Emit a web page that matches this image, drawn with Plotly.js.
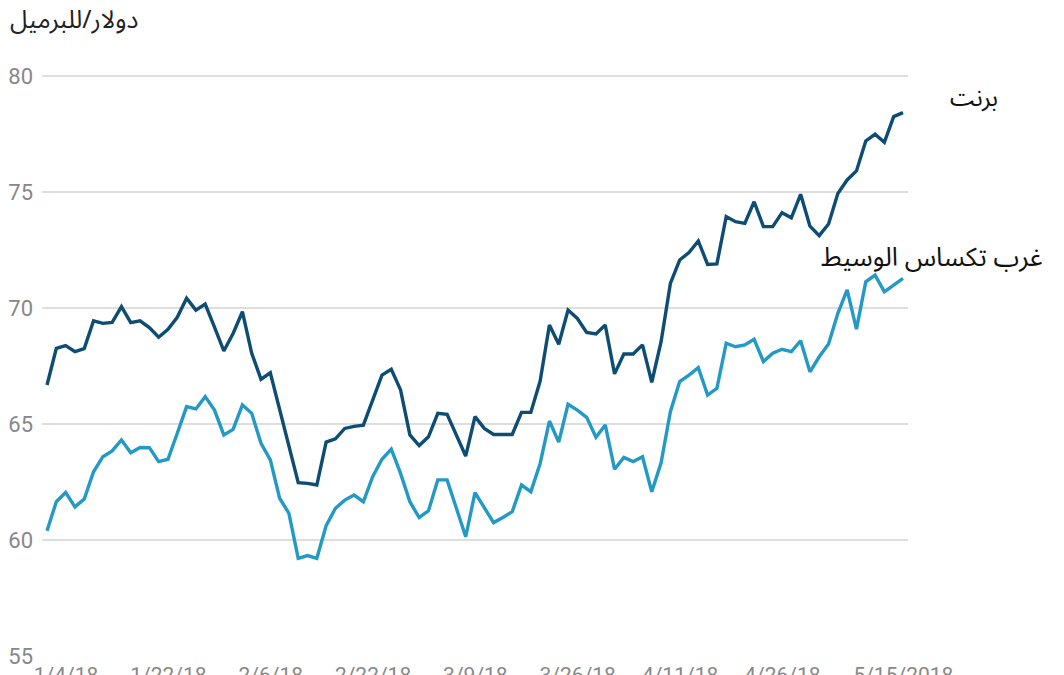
<!DOCTYPE html>
<html>
<head>
<meta charset="utf-8">
<script src="https://cdn.plot.ly/plotly-3.0.1.min.js"></script>
<style>
  html, body { margin: 0; padding: 0; background: #ffffff; }
  #chart { width: 1064px; height: 675px; }
</style>
</head>
<body>
<div id="chart"></div>
<script>
// Trading days, 4 Jan 2018 – 17 May 2018
const dates = [
  "1/4/18","1/5/18","1/8/18","1/9/18","1/10/18","1/11/18","1/12/18","1/16/18","1/17/18","1/18/18","1/19/18",
  "1/22/18","1/23/18","1/24/18","1/25/18","1/26/18","1/29/18","1/30/18","1/31/18",
  "2/1/18","2/2/18","2/5/18","2/6/18","2/7/18","2/8/18","2/9/18","2/12/18","2/13/18","2/14/18","2/15/18","2/16/18",
  "2/20/18","2/21/18","2/22/18","2/23/18","2/26/18","2/27/18","2/28/18",
  "3/1/18","3/2/18","3/5/18","3/6/18","3/7/18","3/8/18","3/9/18","3/12/18","3/13/18","3/14/18","3/15/18","3/16/18",
  "3/19/18","3/20/18","3/21/18","3/22/18","3/23/18","3/26/18","3/27/18","3/28/18","3/29/18",
  "4/2/18","4/3/18","4/4/18","4/5/18","4/6/18","4/9/18","4/10/18","4/11/18","4/12/18","4/13/18",
  "4/16/18","4/17/18","4/18/18","4/19/18","4/20/18","4/23/18","4/24/18","4/25/18","4/26/18","4/27/18","4/30/18",
  "5/1/18","5/2/18","5/3/18","5/4/18","5/7/18","5/8/18","5/9/18","5/10/18","5/11/18","5/14/18","5/15/18","5/16/18","5/17/18"
];

// Brent (USD / barrel)
const brent = [
  66.68,68.26,68.38,68.12,68.25,69.45,69.34,69.38,70.06,69.37,69.45,
  69.16,68.74,69.08,69.60,70.42,69.91,70.17,69.18,
  68.15,68.90,69.84,68.05,66.93,67.21,65.60,64.05,62.47,62.44,62.37,
  64.22,64.36,64.81,64.90,64.95,66.03,67.11,67.36,
  66.47,64.53,64.07,64.45,65.46,65.42,64.53,63.62,65.32,64.81,64.55,
  64.55,64.55,65.50,65.50,66.85,69.27,68.44,69.91,69.55,
  68.95,68.88,69.27,67.16,68.02,68.02,68.41,66.80,68.55,71.06,
  72.07,72.39,72.89,71.88,71.90,73.94,73.72,73.65,74.58,73.51,73.51,
  74.11,73.89,74.90,73.53,73.12,73.62,74.94,75.52,75.91,77.20,77.49,77.14,78.25,78.42
];

// West Texas Intermediate (USD / barrel)
const wti = [
  60.40,61.65,62.05,61.43,61.77,62.94,63.59,63.84,64.31,63.76,63.99,
  63.98,63.38,63.48,64.60,65.75,65.65,66.18,65.60,
  64.53,64.77,65.82,65.46,64.17,63.45,61.80,61.15,59.21,59.33,59.21,
  60.62,61.37,61.72,61.94,61.65,62.73,63.48,63.92,
  62.87,61.65,60.97,61.26,62.59,62.59,61.37,60.14,62.04,61.37,60.75,
  60.97,61.22,62.37,62.08,63.30,65.13,64.22,65.85,65.60,
  65.29,64.43,64.96,63.05,63.56,63.38,63.59,62.08,63.33,65.53,
  66.83,67.11,67.43,66.25,66.54,68.48,68.33,68.41,68.65,67.69,68.05,
  68.22,68.12,68.59,67.25,67.90,68.45,69.77,70.78,69.09,71.13,71.42,70.70,70.99,71.28
];

const tickDates = ["1/4/18","1/22/18","2/6/18","2/22/18","3/9/18","3/26/18","4/11/18","4/26/18","5/15/18"];
const tickLabels = ["1/4/18","1/22/18","2/6/18","2/22/18","3/9/18","3/26/18","4/11/18","4/26/18","5/15/2018"];
const yTicks = [55, 60, 65, 70, 75, 80];

const unitLabel = "دولار/للبرميل";
const brentName = "برنت";
const wtiName = "غرب تكساس الوسيط";

const arabicFont = "Noto Sans Arabic, DejaVu Sans, sans-serif";

const traces = [
  {
    x: dates, y: wti, type: "scatter", mode: "lines", name: wtiName,
    line: { color: "#2399c6", width: 3.4 }, hoverinfo: "skip"
  },
  {
    x: dates, y: brent, type: "scatter", mode: "lines", name: brentName,
    line: { color: "#0d4d74", width: 3.4 }, hoverinfo: "skip"
  }
];

const layout = {
  width: 1064, height: 675,
  margin: { l: 42, r: 156, t: 70, b: 19 },
  paper_bgcolor: "#ffffff", plot_bgcolor: "#ffffff",
  showlegend: false,
  font: { family: "Roboto, sans-serif", color: "#888888", size: 21 },
  xaxis: {
    type: "category",
    range: [-0.54, dates.length - 1 + 0.54],
    tickmode: "array", tickvals: tickDates, ticktext: tickLabels,
    showgrid: false, zeroline: false, showline: false, ticks: "",
    ticklabelshift: 19,
    ticklabelstandoff: 4,
    tickfont: { family: "Roboto, sans-serif", size: 21, color: "#888888" },
    automargin: false, fixedrange: true
  },
  yaxis: {
    range: [55, 80.26],
    tickmode: "array", tickvals: yTicks,
    showgrid: true, gridcolor: "#dedede", gridwidth: 2,
    zeroline: false, showline: false, ticks: "",
    ticklabelstandoff: 8,
    tickfont: { family: "Roboto, sans-serif", size: 22, color: "#888888" },
    automargin: false, fixedrange: true
  },
  annotations: [
    {
      text: unitLabel, xref: "paper", yref: "paper",
      x: (8 - 42) / 866, y: (656 - 20) / 586, xanchor: "left", yanchor: "middle",
      showarrow: false, font: { family: arabicFont, size: 25, color: "#222222" }
    },
    {
      text: brentName, xref: "paper", yref: "paper",
      x: (974 - 42) / 866, y: (656 - 98) / 586, xanchor: "center", yanchor: "middle",
      showarrow: false, font: { family: arabicFont, size: 24, color: "#111111" }
    },
    {
      text: wtiName, xref: "paper", yref: "paper",
      x: (932 - 42) / 866, y: (656 - 257) / 586, xanchor: "center", yanchor: "middle",
      showarrow: false, font: { family: arabicFont, size: 26, color: "#111111" }
    }
  ]
};

Plotly.newPlot("chart", traces, layout, { displayModeBar: false, staticPlot: true });
</script>
</body>
</html>
